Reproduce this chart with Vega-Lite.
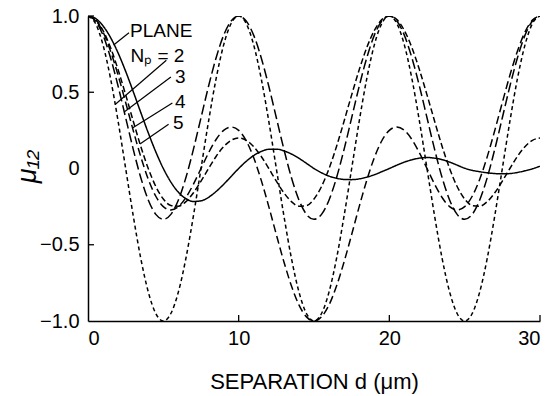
{
  "$schema": "https://vega.github.io/schema/vega-lite/v6.json",
  "autosize": "none",
  "width": 452,
  "height": 305,
  "padding": {"left": 88, "top": 16, "right": 20, "bottom": 75},
  "background": "white",
  "config": {
    "view": {"stroke": null},
    "font": "Liberation Sans",
    "axis": {"grid": false, "domainColor": "black", "domainWidth": 1.5, "ticks": false, "labelColor": "black", "titleColor": "black", "labelFont": "Liberation Sans", "titleFont": "Liberation Sans", "titleFontWeight": "normal", "labelFontSize": 20, "titleFontSize": 22}
  },
  "datasets": {
    "curves": [
      {"d": 0, "plane": 1, "n2": 1, "n3": 1, "n4": 1, "n5": 1},
      {"d": 0.5, "plane": 0.984, "n2": 0.951, "n3": 0.967, "n4": 0.973, "n5": 0.976},
      {"d": 1, "plane": 0.935, "n2": 0.809, "n3": 0.873, "n4": 0.894, "n5": 0.904},
      {"d": 1.5, "plane": 0.858, "n2": 0.588, "n3": 0.725, "n4": 0.769, "n5": 0.792},
      {"d": 2, "plane": 0.757, "n2": 0.309, "n3": 0.539, "n4": 0.611, "n5": 0.647},
      {"d": 2.5, "plane": 0.637, "n2": 0, "n3": 0.333, "n4": 0.433, "n5": 0.483},
      {"d": 3, "plane": 0.505, "n2": -0.309, "n3": 0.127, "n4": 0.25, "n5": 0.312},
      {"d": 3.5, "plane": 0.368, "n2": -0.588, "n3": -0.059, "n4": 0.078, "n5": 0.146},
      {"d": 4, "plane": 0.234, "n2": -0.809, "n3": -0.206, "n4": -0.07, "n5": 0},
      {"d": 4.5, "plane": 0.109, "n2": -0.951, "n3": -0.301, "n4": -0.182, "n5": -0.118},
      {"d": 5, "plane": 0, "n2": -1, "n3": -0.333, "n4": -0.25, "n5": -0.2},
      {"d": 5.5, "plane": -0.089, "n2": -0.951, "n3": -0.301, "n4": -0.272, "n5": -0.243},
      {"d": 6, "plane": -0.156, "n2": -0.809, "n3": -0.206, "n4": -0.25, "n5": -0.247},
      {"d": 6.5, "plane": -0.198, "n2": -0.588, "n3": -0.059, "n4": -0.19, "n5": -0.217},
      {"d": 7, "plane": -0.216, "n2": -0.309, "n3": 0.127, "n4": -0.102, "n5": -0.159},
      {"d": 7.5, "plane": -0.212, "n2": 0, "n3": 0.333, "n4": 0, "n5": -0.083},
      {"d": 8, "plane": -0.189, "n2": 0.309, "n3": 0.539, "n4": 0.102, "n5": 0},
      {"d": 8.5, "plane": -0.151, "n2": 0.588, "n3": 0.725, "n4": 0.19, "n5": 0.079},
      {"d": 9, "plane": -0.104, "n2": 0.809, "n3": 0.873, "n4": 0.25, "n5": 0.143},
      {"d": 9.5, "plane": -0.052, "n2": 0.951, "n3": 0.967, "n4": 0.272, "n5": 0.185},
      {"d": 10, "plane": 0, "n2": 1, "n3": 1, "n4": 0.25, "n5": 0.2},
      {"d": 10.5, "plane": 0.047, "n2": 0.951, "n3": 0.967, "n4": 0.182, "n5": 0.185},
      {"d": 11, "plane": 0.085, "n2": 0.809, "n3": 0.873, "n4": 0.07, "n5": 0.143},
      {"d": 11.5, "plane": 0.112, "n2": 0.588, "n3": 0.725, "n4": -0.078, "n5": 0.079},
      {"d": 12, "plane": 0.126, "n2": 0.309, "n3": 0.539, "n4": -0.25, "n5": 0},
      {"d": 12.5, "plane": 0.127, "n2": 0, "n3": 0.333, "n4": -0.433, "n5": -0.083},
      {"d": 13, "plane": 0.116, "n2": -0.309, "n3": 0.127, "n4": -0.611, "n5": -0.159},
      {"d": 13.5, "plane": 0.095, "n2": -0.588, "n3": -0.059, "n4": -0.769, "n5": -0.217},
      {"d": 14, "plane": 0.067, "n2": -0.809, "n3": -0.206, "n4": -0.894, "n5": -0.247},
      {"d": 14.5, "plane": 0.034, "n2": -0.951, "n3": -0.301, "n4": -0.973, "n5": -0.243},
      {"d": 15, "plane": 0, "n2": -1, "n3": -0.333, "n4": -1, "n5": -0.2},
      {"d": 15.5, "plane": -0.028, "n2": -0.951, "n3": -0.301, "n4": -0.973, "n5": -0.118},
      {"d": 16, "plane": -0.05, "n2": -0.809, "n3": -0.206, "n4": -0.894, "n5": 0},
      {"d": 16.5, "plane": -0.064, "n2": -0.588, "n3": -0.059, "n4": -0.769, "n5": 0.146},
      {"d": 17, "plane": -0.072, "n2": -0.309, "n3": 0.127, "n4": -0.611, "n5": 0.312},
      {"d": 17.5, "plane": -0.073, "n2": 0, "n3": 0.333, "n4": -0.433, "n5": 0.483},
      {"d": 18, "plane": -0.068, "n2": 0.309, "n3": 0.539, "n4": -0.25, "n5": 0.647},
      {"d": 18.5, "plane": -0.057, "n2": 0.588, "n3": 0.725, "n4": -0.078, "n5": 0.792},
      {"d": 19, "plane": -0.041, "n2": 0.809, "n3": 0.873, "n4": 0.07, "n5": 0.904},
      {"d": 19.5, "plane": -0.021, "n2": 0.951, "n3": 0.967, "n4": 0.182, "n5": 0.976},
      {"d": 20, "plane": 0, "n2": 1, "n3": 1, "n4": 0.25, "n5": 1},
      {"d": 20.5, "plane": 0.022, "n2": 0.951, "n3": 0.967, "n4": 0.272, "n5": 0.976},
      {"d": 21, "plane": 0.042, "n2": 0.809, "n3": 0.873, "n4": 0.25, "n5": 0.904},
      {"d": 21.5, "plane": 0.057, "n2": 0.588, "n3": 0.725, "n4": 0.19, "n5": 0.792},
      {"d": 22, "plane": 0.068, "n2": 0.309, "n3": 0.539, "n4": 0.102, "n5": 0.647},
      {"d": 22.5, "plane": 0.072, "n2": 0, "n3": 0.333, "n4": 0, "n5": 0.483},
      {"d": 23, "plane": 0.068, "n2": -0.309, "n3": 0.127, "n4": -0.102, "n5": 0.312},
      {"d": 23.5, "plane": 0.058, "n2": -0.588, "n3": -0.059, "n4": -0.19, "n5": 0.146},
      {"d": 24, "plane": 0.042, "n2": -0.809, "n3": -0.206, "n4": -0.25, "n5": 0},
      {"d": 24.5, "plane": 0.022, "n2": -0.951, "n3": -0.301, "n4": -0.272, "n5": -0.118},
      {"d": 25, "plane": 0.002, "n2": -1, "n3": -0.333, "n4": -0.25, "n5": -0.2},
      {"d": 25.5, "plane": -0.012, "n2": -0.951, "n3": -0.301, "n4": -0.182, "n5": -0.243},
      {"d": 26, "plane": -0.021, "n2": -0.809, "n3": -0.206, "n4": -0.07, "n5": -0.247},
      {"d": 26.5, "plane": -0.028, "n2": -0.588, "n3": -0.059, "n4": 0.078, "n5": -0.217},
      {"d": 27, "plane": -0.033, "n2": -0.309, "n3": 0.127, "n4": 0.25, "n5": -0.159},
      {"d": 27.5, "plane": -0.035, "n2": 0, "n3": 0.333, "n4": 0.433, "n5": -0.083},
      {"d": 28, "plane": -0.033, "n2": 0.309, "n3": 0.539, "n4": 0.611, "n5": 0},
      {"d": 28.5, "plane": -0.026, "n2": 0.588, "n3": 0.725, "n4": 0.769, "n5": 0.079},
      {"d": 29, "plane": -0.015, "n2": 0.809, "n3": 0.873, "n4": 0.894, "n5": 0.143},
      {"d": 29.5, "plane": -0.002, "n2": 0.951, "n3": 0.967, "n4": 0.973, "n5": 0.185},
      {"d": 30, "plane": 0.015, "n2": 1, "n3": 1, "n4": 1, "n5": 0.2}
    ],
    "labels": [
      {"x": 2.79, "y": 0.9, "label": "PLANE"},
      {"x": 2.82, "y": 0.74, "label": "Nₚ = 2"},
      {"x": 5.77, "y": 0.6, "label": "3"},
      {"x": 5.77, "y": 0.437, "label": "4"},
      {"x": 5.64, "y": 0.296, "label": "5"}
    ],
    "leaders": [
      {"x": 2.72, "y": 0.89, "x2": 1.7, "y2": 0.81},
      {"x": 5.2, "y": 0.71, "x2": 1.8, "y2": 0.42},
      {"x": 5.5, "y": 0.6, "x2": 2.4, "y2": 0.37},
      {"x": 5.6, "y": 0.43, "x2": 2.95, "y2": 0.265},
      {"x": 5.35, "y": 0.29, "x2": 3.45, "y2": 0.16}
    ],
    "xticks": [
      {"x": 10, "y": -1, "y2": -0.96},
      {"x": 20, "y": -1, "y2": -0.96},
      {"x": 30, "y": -1, "y2": -0.96}
    ],
    "yticks": [
      {"y": -0.5, "x": 0, "x2": 0.4},
      {"y": 0.5, "x": 0, "x2": 0.4},
      {"y": 1, "x": 0, "x2": 0.4}
    ]
  },
  "layer": [
    {
      "data": {"name": "curves"},
      "transform": [{"fold": ["plane", "n2", "n3", "n4", "n5"], "as": ["curve", "mu"]}],
      "mark": {"type": "line", "color": "black", "strokeWidth": 1.5, "interpolate": "monotone", "clip": true},
      "encoding": {
        "x": {"field": "d", "type": "quantitative", "scale": {"domain": [0, 30], "nice": false},
          "axis": {"values": [0, 10, 20, 30], "labelPadding": 7, "title": "SEPARATION  d  (μm)", "titleY": 67, "titleBaseline": "alphabetic"}},
        "y": {"field": "mu", "type": "quantitative", "scale": {"domain": [-1, 1], "nice": false},
          "axis": {"values": [-1, -0.5, 0, 0.5, 1], "labelPadding": 9, "labelExpr": "datum.value === 0 ? '0' : format(datum.value, '.1f')", "title": "μ₁₂", "titleFontStyle": "italic", "titleFontSize": 27, "titleX": -47, "titleY": 150}},
        "detail": {"field": "curve"},
        "strokeDash": {"field": "curve", "type": "nominal", "legend": null,
          "scale": {"domain": ["plane", "n2", "n3", "n4", "n5"], "range": [[1, 0], [4, 3], [10, 4], [8, 4], [6, 3]]}}
      }
    },
    {
      "mark": {"type": "rule", "color": "black", "strokeWidth": 1.2},
      "encoding": {"y": {"datum": 0, "type": "quantitative"}}
    },
    {
      "data": {"name": "xticks"},
      "mark": {"type": "rule", "color": "black", "strokeWidth": 1.3},
      "encoding": {
        "x": {"field": "x", "type": "quantitative"},
        "y": {"field": "y", "type": "quantitative"},
        "y2": {"field": "y2"}
      }
    },
    {
      "data": {"name": "yticks"},
      "mark": {"type": "rule", "color": "black", "strokeWidth": 1.3},
      "encoding": {
        "x": {"field": "x", "type": "quantitative"},
        "x2": {"field": "x2"},
        "y": {"field": "y", "type": "quantitative"}
      }
    },
    {
      "data": {"name": "leaders"},
      "mark": {"type": "rule", "color": "black", "strokeWidth": 1.2},
      "encoding": {
        "x": {"field": "x", "type": "quantitative"},
        "y": {"field": "y", "type": "quantitative"},
        "x2": {"field": "x2"},
        "y2": {"field": "y2"}
      }
    },
    {
      "data": {"name": "labels"},
      "mark": {"type": "text", "align": "left", "baseline": "middle", "fontSize": 19, "font": "Liberation Sans", "color": "black"},
      "encoding": {
        "x": {"field": "x", "type": "quantitative"},
        "y": {"field": "y", "type": "quantitative"},
        "text": {"field": "label"}
      }
    }
  ]
}
